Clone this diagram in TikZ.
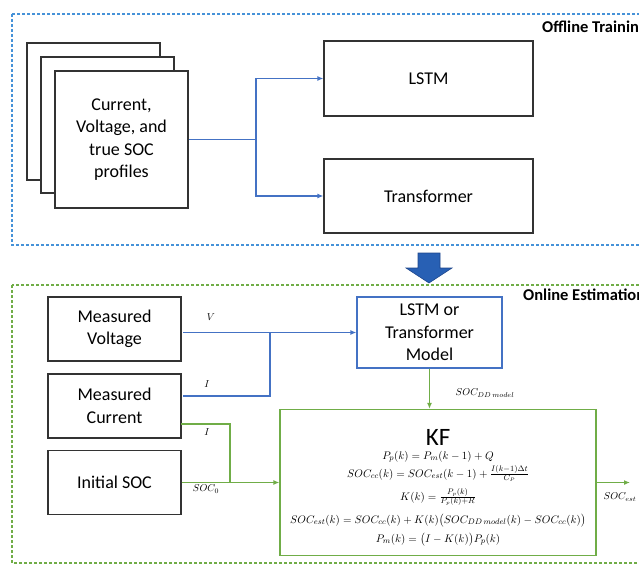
\documentclass[tikz,border=0pt]{standalone}
\usepackage[no-math]{fontspec}
\usepackage{amsmath}
\usetikzlibrary{arrows.meta}
\setmainfont{Carlito}
\definecolor{dotblue}{RGB}{70,146,216}
\definecolor{dotgreen}{RGB}{112,173,71}
\definecolor{lineblue}{RGB}{68,114,196}
\definecolor{arrowblue}{RGB}{40,96,180}
\definecolor{arrowedge}{RGB}{30,70,140}

\begin{document}
\begin{tikzpicture}[x=1pt,y=-1pt,>={Latex[length=6pt,width=5pt]},
    box/.style={draw=black!80,line width=1.2pt,fill=white,inner sep=0pt,align=center,
      font=\fontsize{18}{22.5}\selectfont},
    dotframe/.style={line width=2.6pt,dash pattern=on 2.6pt off 2.4pt},
    blueline/.style={draw=lineblue,line width=1.3pt},
    greenline/.style={draw=dotgreen,line width=1.3pt},
    tag/.style={font=\fontsize{10}{12}\selectfont,inner sep=0pt},
    eq/.style={font=\fontsize{11}{13}\selectfont,inner sep=0pt,anchor=base},
    heading/.style={anchor=west,inner sep=0pt,font=\fontsize{16.5}{19}\selectfont\bfseries}]
  \clip (0,0) rectangle (639,564);
  \draw[dotframe,dotblue] (12,14) rectangle (680,245);
  \draw[dotframe,dotgreen] (12,285) rectangle (680,563);
  \node[heading] (offl) at (542,28) {Offline Training};
  \node[heading] (onl) at (523,295) {Online Estimation};

  \node[box,minimum width=133pt,minimum height=137pt] (page1) at (93.5,111.5) {};
  \node[box,minimum width=133pt,minimum height=136pt] (page2) at (107.5,125) {};
  \node[box,minimum width=133pt,minimum height=137pt] (prof) at (121.5,139.5) {Current,\\Voltage, and\\true SOC\\profiles};
  \node[box,minimum width=209pt,minimum height=75pt] (lstm) at (428.5,78.5) {LSTM};
  \node[box,minimum width=209pt,minimum height=74pt] (trans) at (428.5,196) {Transformer};
  \coordinate (split) at (256,139.5);
  \draw[blueline,->] (prof.east) -- (split) |- (lstm.west);
  \draw[blueline,->] (split) |- (trans.west);

  \fill[arrowblue,draw=arrowedge,line width=0.6pt] (418,253) -- (440,253) -- (440,268) -- (452,268)
    -- (429,283) -- (406,268) -- (418,268) -- cycle;

  \node[box,minimum width=133pt,minimum height=64pt] (volt) at (114.5,329) {Measured\\Voltage};
  \node[box,minimum width=133pt,minimum height=64pt] (curr) at (114.5,406) {Measured\\Current};
  \node[box,minimum width=133pt,minimum height=64pt] (init) at (114.5,482.5) {Initial SOC};
  \node[box,draw=lineblue,minimum width=145pt,minimum height=71pt] (model) at (429.5,332.5) {LSTM or\\Transformer\\Model};
  \node[box,draw=dotgreen,minimum width=316pt,minimum height=146pt] (kf) at (438,482.5) {};
  \node[inner sep=0pt,font=\fontsize{25}{30}\selectfont] (kftitle) at (438,437) {KF};
  \node[eq] (eqpp) at (438,459) {$P_p(k) = P_m(k-1) + Q$};
  \node[eq] (eqcc) at (438,477) {$SOC_{cc}(k) = SOC_{est}(k-1) + \frac{I(k-1)\Delta t}{C_P}$};
  \node[eq] (eqk) at (438,500) {$K(k) = \frac{P_p(k)}{P_p(k)+R}$};
  \node[eq] (eqest) at (438,523) {$SOC_{est}(k) = SOC_{cc}(k) + K(k)\bigl(SOC_{DD\,model}(k) - SOC_{cc}(k)\bigr)$};
  \node[eq] (eqpm) at (438,542) {$P_m(k) = \bigl(I - K(k)\bigr)P_p(k)$};

  \coordinate (vin) at (183,332.5);
  \coordinate (iin) at (183,396);
  \coordinate (ijoin) at (270,332.5);
  \coordinate (iout) at (181,424);
  \coordinate (sjoin) at (230,482.5);
  \coordinate (socout) at (630,482.5);
  \draw[blueline,->] (vin) -- (model.west);
  \draw[blueline] (iin) -| (ijoin);
  \draw[greenline] (iout) -| (sjoin);
  \draw[greenline,->] (init.east) -- (kf.west);
  \draw[greenline,->] (model.south) -- (model.south |- kf.north);
  \draw[greenline,->] (kf.east) -- (socout);

  \node[tag] (lblv) at (211,317) {$V$};
  \node[tag] (lbli) at (207,384) {$I$};
  \node[tag] (lblig) at (207,432) {$I$};
  \node[tag] (lblsoc) at (206,489) {$SOC_0$};
  \node[tag] (lbldd) at (485,393) {$SOC_{DD\,model}$};
  \node[tag] (lblest) at (620,497) {$SOC_{est}$};
\end{tikzpicture}
\end{document}
